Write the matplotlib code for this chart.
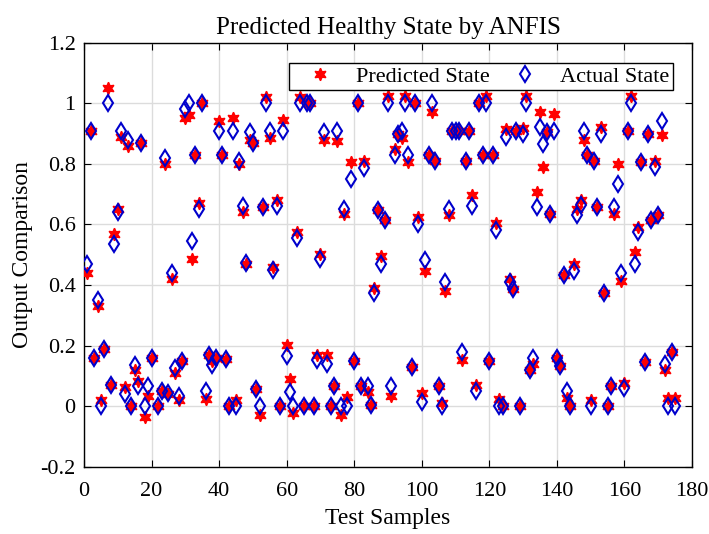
import numpy as np
import matplotlib
matplotlib.use('Agg')
from matplotlib import pyplot as plt

# sample index, actual state, predicted state
samples = [1, 2, 3, 4, 5, 6, 7, 8, 9, 10, 11, 12, 13, 14, 15, 16, 17, 18, 19, 20,
           22, 23, 24, 25, 26, 27, 28, 29, 30, 31, 32, 33, 34, 35, 36, 37, 38, 39, 40,
           41, 42, 43, 44, 45, 46, 47, 48, 49, 50, 51, 52, 53, 54, 55, 56, 57, 58, 59, 60,
           61, 62, 63, 64, 65, 66, 67, 68, 69, 70, 71, 72, 73, 74, 75, 76, 77, 78, 79, 80,
           81, 82, 83, 84, 85, 86, 87, 88, 89, 90, 91, 92, 93, 94, 95, 96, 97, 98, 99, 100,
           101, 102, 103, 104, 105, 106, 107, 108, 109, 110, 111, 112, 113, 114, 115, 116,
           117, 118, 119, 120, 121, 122, 123, 124, 125, 126, 127, 128, 129, 130, 131, 132,
           133, 134, 135, 136, 137, 138, 139, 140, 141, 142, 143, 144, 145, 146, 147, 148,
           149, 150, 151, 152, 153, 154, 155, 156, 157, 158, 159, 160, 161, 162, 163, 164,
           165, 166, 167, 168, 169, 170, 171, 172, 173, 174, 175]

actual = [0.47, 0.91, 0.16, 0.35, 0.0, 0.19, 1.0, 0.07, 0.535, 0.64, 0.91, 0.04, 0.88, 0.0,
          0.137, 0.066, 0.87, 0.0, 0.066, 0.16,
          0.0, 0.05, 0.82, 0.042, 0.44, 0.126, 0.033, 0.15, 0.98, 1.0, 0.546, 0.83, 0.65,
          1.0, 0.05, 0.17, 0.137, 0.16, 0.91,
          0.83, 0.156, 0.0, 0.91, 0.0, 0.81, 0.66, 0.474, 0.905, 0.87, 0.055, 0.0, 0.658,
          1.0, 0.91, 0.45, 0.66, 0.0, 0.91, 0.164,
          0.046, 0.0, 0.554, 1.0, 0.0, 1.0, 1.0, 0.0, 0.151, 0.485, 0.905, 0.14, 0.0, 0.066,
          0.91, 0.0, 0.65, 0.0, 0.75, 0.148,
          1.0, 0.066, 0.787, 0.066, 0.005, 0.373, 0.647, 0.47, 0.616, 1.0, 0.068, 0.83, 0.90,
          0.91, 1.0, 0.83, 0.13, 1.0, 0.6, 0.013,
          0.483, 0.83, 1.0, 0.81, 0.066, 0.0, 0.41, 0.65, 0.91, 0.91, 0.91, 0.178, 0.81, 0.91,
          0.66, 0.05,
          1.0, 0.83, 1.0, 0.148, 0.83, 0.583, 0.0, 0.0, 0.89, 0.41, 0.386, 0.91, 0.0, 0.897,
          1.0, 0.118,
          0.159, 0.658, 0.923, 0.864, 0.905, 0.634, 0.91, 0.159, 0.134, 0.433, 0.05, 0.0,
          0.447, 0.63, 0.663, 0.908,
          0.83, 0.0, 0.81, 0.658, 0.897, 0.375, 0.0, 0.066, 0.658, 0.735, 0.44, 0.06, 0.91,
          1.0, 0.47, 0.575,
          0.806, 0.145, 0.9, 0.614, 0.79, 0.63, 0.94, 0.14, 0.0, 0.178, 0.0]

predicted = [0.44, 0.91, 0.16, 0.33, 0.02, 0.19, 1.05, 0.07, 0.57, 0.65, 0.89, 0.064, 0.86, 0.0,
             0.118, 0.082, 0.87, -0.035, 0.035, 0.16,
             0.0, 0.05, 0.80, 0.04, 0.42, 0.11, 0.02, 0.15, 0.95, 0.96, 0.486, 0.83, 0.67,
             1.0, 0.022, 0.17, 0.15, 0.16, 0.94,
             0.83, 0.156, 0.0, 0.95, 0.02, 0.80, 0.64, 0.47, 0.88, 0.87, 0.055, -0.03, 0.658,
             1.02, 0.886, 0.46, 0.68, 0.0, 0.945, 0.203,
             0.088, -0.024, 0.576, 1.02, 0.0, 1.0, 1.0, 0.0, 0.17, 0.504, 0.88, 0.17, 0.0, 0.066,
             0.877, -0.03, 0.636, 0.03, 0.806, 0.148,
             1.0, 0.066, 0.81, 0.046, 0.005, 0.39, 0.647, 0.496, 0.616, 1.025, 0.035, 0.85, 0.90,
             0.886, 1.025, 0.806, 0.13, 1.0, 0.625, 0.044,
             0.447, 0.83, 0.97, 0.81, 0.066, 0.01, 0.38, 0.63, 0.91, 0.91, 0.91, 0.154, 0.81, 0.91,
             0.696, 0.071,
             1.0, 0.83, 1.025, 0.148, 0.83, 0.605, 0.024, 0.0, 0.915, 0.42, 0.386, 0.91, 0.0, 0.92,
             1.025, 0.118,
             0.14, 0.707, 0.97, 0.79, 0.905, 0.634, 0.965, 0.159, 0.134, 0.433, 0.027, 0.0,
             0.47, 0.65, 0.68, 0.88,
             0.83, 0.02, 0.81, 0.658, 0.923, 0.375, 0.0, 0.066, 0.636, 0.80, 0.414, 0.077, 0.91,
             1.025, 0.51, 0.59,
             0.806, 0.145, 0.9, 0.614, 0.81, 0.63, 0.894, 0.118, 0.027, 0.178, 0.027]

plt.rcParams['font.family'] = ['Liberation Serif', 'DejaVu Serif']

fig = plt.figure(figsize=(7.09, 5.34), dpi=100)
ax = fig.add_axes([0.1185, 0.126, 0.8575, 0.794])

ax.plot(samples, predicted, linestyle='none', marker=(6, 1, 0), markersize=9,
        color='red', markeredgecolor='red', label='Predicted State', zorder=3)
ax.plot(samples, actual, linestyle='none', marker='d', markersize=8,
        markerfacecolor='none', markeredgecolor='#0000cc', markeredgewidth=1.5,
        label='Actual State', zorder=4)

ax.set_xlim(0, 180)
ax.set_ylim(-0.2, 1.2)
ax.set_xticks(np.arange(0, 181, 20))
yt = [-0.2, 0, 0.2, 0.4, 0.6, 0.8, 1, 1.2]
ax.set_yticks(yt)
ax.set_yticklabels(['-0.2', '0', '0.2', '0.4', '0.6', '0.8', '1', '1.2'])
ax.tick_params(direction='in', top=True, right=True, labelsize=16, length=5)
ax.tick_params(axis='x', pad=11)
ax.tick_params(axis='y', pad=6)
ax.grid(True, color='#dcdcdc', linewidth=1)
ax.set_axisbelow(True)
for sp in ax.spines.values():
    sp.set_linewidth(1)

ax.set_xlabel('Test Samples', fontsize=17, labelpad=5)
ax.set_ylabel('Output Comparison', fontsize=17, labelpad=5)
ax.set_title('Predicted Healthy State by ANFIS', fontsize=18, pad=6)

leg = ax.legend(loc='upper right', ncol=2, fontsize=16, fancybox=False, framealpha=1,
                edgecolor='black', bbox_to_anchor=(0.9688, 0.9518), borderaxespad=0,
                borderpad=0.15, handlelength=2.5, handletextpad=0.35, columnspacing=0.34)
leg.get_frame().set_linewidth(1)

fig.savefig('out.png', dpi=100)
